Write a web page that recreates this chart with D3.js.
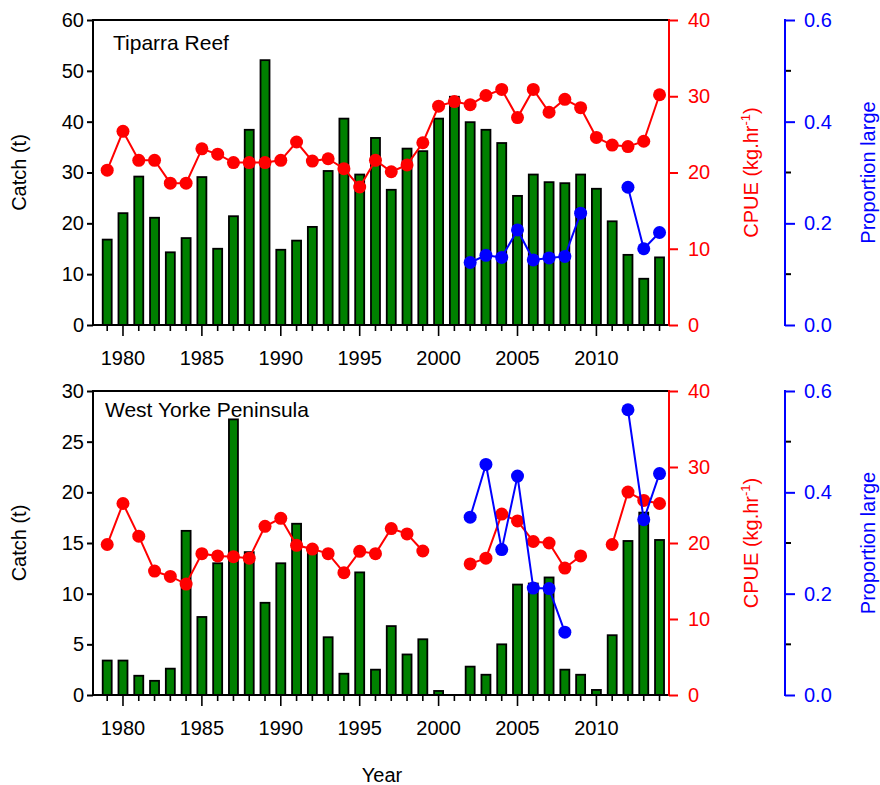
<!DOCTYPE html>
<html>
<head>
<meta charset="utf-8">
<script src="https://cdn.jsdelivr.net/npm/d3@7"></script>
<style>
  html, body { margin: 0; padding: 0; background: #fff; }
  svg { display: block; font-family: "Liberation Sans", Arial, sans-serif; }
</style>
</head>
<body>
<svg id="chart" width="880" height="785"></svg>
<script>
// ---------------- DATA ----------------
const years = [1979,1980,1981,1982,1983,1984,1985,1986,1987,1988,1989,1990,1991,1992,1993,1994,1995,1996,1997,1998,1999,2000,2001,2002,2003,2004,2005,2006,2007,2008,2009,2010,2011,2012,2013,2014];
const xTickLabels = [1980,1985,1990,1995,2000,2005,2010];

const tiparraCatch = [16.8,22.0,29.2,21.1,14.3,17.1,29.1,15.0,21.4,38.4,52.1,14.8,16.6,19.3,30.3,40.6,29.6,36.8,26.6,34.7,34.2,40.6,44.9,39.9,38.4,35.8,25.4,29.6,28.1,27.9,29.6,26.8,20.4,13.8,9.1,13.3];
const tiparraCPUE = [20.3,25.4,21.6,21.6,18.6,18.6,23.1,22.4,21.3,21.3,21.3,21.6,24.0,21.5,21.8,20.5,18.1,21.6,20.1,21.0,23.9,28.7,29.3,28.9,30.1,30.9,27.2,30.9,27.9,29.6,28.5,24.6,23.6,23.4,24.1,30.2];
const tiparraProp = [null,null,null,null,null,null,null,null,null,null,null,null,null,null,null,null,null,null,null,null,null,null,null,0.123,0.137,0.133,0.187,0.128,0.132,0.135,0.220,null,null,0.271,0.150,0.182];

const westCatch = [3.4,3.4,1.9,1.4,2.6,16.2,7.7,13.0,27.2,14.1,9.1,13.0,16.9,14.6,5.7,2.1,12.1,2.5,6.8,4.0,5.5,0.4,null,2.8,2.0,5.0,10.9,11.0,11.6,2.5,2.0,0.5,5.9,15.2,18.0,15.3];
const westCPUE = [19.8,25.2,20.9,16.3,15.6,14.6,18.6,18.3,18.2,18.0,22.2,23.25,19.7,19.2,18.6,16.1,18.9,18.6,21.9,21.2,18.95,null,null,17.25,18.0,23.8,22.9,20.2,20.0,16.7,18.3,null,19.8,26.7,25.6,25.2];
const westProp = [null,null,null,null,null,null,null,null,null,null,null,null,null,null,null,null,null,null,null,null,null,null,null,0.351,0.455,0.287,0.432,0.211,0.210,0.124,null,null,null,0.563,0.346,0.437];

const tiparraCatchTicks = [0,10,20,30,40,50,60];
const westCatchTicks = [0,5,10,15,20,25,30];
const cpueTicks = [0,10,20,30,40];
const propTicks = [0.0,0.2,0.4,0.6];
const propMinorTicks = [0.1,0.3,0.5];

const panelTitles = ["Tiparra Reef", "West Yorke Peninsula"];
const catchTitle = "Catch (t)";
const propTitle = "Proportion large";
const xTitle = "Year";

// ---------------- LAYOUT ----------------
const svg = d3.select("#chart");
const FS = 20;
const left = 93, right = 669, blueX = 785;
const x = d3.scaleLinear().domain([1978.1, 2014.6]).range([left, right]);

const panels = [
  { top: 20, bottom: 325, catchMax: 60, catchTicks: tiparraCatchTicks, catchV: tiparraCatch, cpue: tiparraCPUE, prop: tiparraProp, title: panelTitles[0], tx: 113, ty: 50 },
  { top: 391, bottom: 695, catchMax: 30, catchTicks: westCatchTicks, catchV: westCatch, cpue: westCPUE, prop: westProp, title: panelTitles[1], tx: 105, ty: 417 }
];

panels.forEach(p => {
  const g = svg.append("g");
  const yC = d3.scaleLinear().domain([0, p.catchMax]).range([p.bottom, p.top]);
  const yR = d3.scaleLinear().domain([0, 40]).range([p.bottom, p.top]);
  const yP = d3.scaleLinear().domain([0, 0.6]).range([p.bottom, p.top]);

  // bars
  const bw = 9;
  g.append("g").selectAll("rect")
    .data(years.map((yr, i) => ({ yr, v: p.catchV[i] })).filter(d => d.v != null))
    .join("rect")
    .attr("x", d => x(d.yr) - bw / 2)
    .attr("width", bw)
    .attr("y", d => yC(d.v))
    .attr("height", d => yC(0) - yC(d.v))
    .attr("fill", "#008000")
    .attr("stroke", "#000")
    .attr("stroke-width", 1.8);

  // frame
  g.append("line").attr("x1", left).attr("x2", right).attr("y1", p.top).attr("y2", p.top).attr("stroke", "#000").attr("stroke-width", 2);
  g.append("line").attr("x1", left).attr("x2", right).attr("y1", p.bottom).attr("y2", p.bottom).attr("stroke", "#000").attr("stroke-width", 2);
  g.append("line").attr("x1", left).attr("x2", left).attr("y1", p.top - 1).attr("y2", p.bottom + 1).attr("stroke", "#000").attr("stroke-width", 2);

  // left axis
  const la = g.append("g").attr("transform", `translate(${left},0)`)
    .call(d3.axisLeft(yC).tickValues(p.catchTicks).tickSize(6).tickPadding(3).tickFormat(d3.format("d")));
  la.select(".domain").remove();
  la.selectAll("line").attr("stroke", "#000").attr("stroke-width", 2);
  la.selectAll("text").attr("font-size", FS).attr("fill", "#000").attr("font-family", null);

  // x axis ticks
  const xg = g.append("g");
  xg.selectAll("line").data(years).join("line")
    .attr("x1", d => x(d)).attr("x2", d => x(d))
    .attr("y1", p.bottom).attr("y2", d => p.bottom + (d % 5 === 0 ? 11 : 6))
    .attr("stroke", "#000").attr("stroke-width", 1.6);
  xg.selectAll("text").data(xTickLabels).join("text")
    .attr("x", d => x(d)).attr("y", p.bottom + 40)
    .attr("text-anchor", "middle").attr("font-size", FS).text(d => d);

  // red axis
  const ra = g.append("g").attr("transform", `translate(${right},0)`)
    .call(d3.axisRight(yR).tickValues(cpueTicks).tickSize(9).tickPadding(10).tickSizeOuter(0));
  ra.select(".domain").attr("stroke", "#ff0000").attr("stroke-width", 2).attr("d", `M0,${p.top - 1}V${p.bottom + 1}`);
  ra.selectAll(".tick line").attr("stroke", "#ff0000").attr("stroke-width", 2);
  ra.selectAll("text").attr("font-size", FS).attr("fill", "#ff0000").attr("font-family", null);

  // blue axis
  const ba = g.append("g").attr("transform", `translate(${blueX},0)`)
    .call(d3.axisRight(yP).tickValues(propTicks).tickSize(10).tickPadding(9).tickSizeOuter(0).tickFormat(d3.format(".1f")));
  ba.select(".domain").attr("stroke", "#0000ff").attr("stroke-width", 2).attr("d", `M0,${p.top - 1}V${p.bottom + 1}`);
  ba.selectAll(".tick line").attr("stroke", "#0000ff").attr("stroke-width", 2);
  ba.selectAll("text").attr("font-size", FS).attr("fill", "#0000ff").attr("font-family", null);
  ba.append("g").selectAll("line").data(propMinorTicks).join("line")
    .attr("x1", 1).attr("x2", 6).attr("y1", d => yP(d)).attr("y2", d => yP(d))
    .attr("stroke", "#000").attr("stroke-width", 2);

  // CPUE line
  const redData = years.map((yr, i) => ({ yr, v: p.cpue[i] }));
  g.append("path").datum(redData)
    .attr("d", d3.line().defined(d => d.v != null).x(d => x(d.yr)).y(d => yR(d.v)))
    .attr("fill", "none").attr("stroke", "#ff0000").attr("stroke-width", 2);
  g.append("g").selectAll("circle").data(redData.filter(d => d.v != null)).join("circle")
    .attr("cx", d => x(d.yr)).attr("cy", d => yR(d.v)).attr("r", 6.5).attr("fill", "#ff0000");

  // proportion line
  const blueData = years.map((yr, i) => ({ yr, v: p.prop[i] }));
  g.append("path").datum(blueData)
    .attr("d", d3.line().defined(d => d.v != null).x(d => x(d.yr)).y(d => yP(d.v)))
    .attr("fill", "none").attr("stroke", "#0000ff").attr("stroke-width", 2);
  g.append("g").selectAll("circle").data(blueData.filter(d => d.v != null)).join("circle")
    .attr("cx", d => x(d.yr)).attr("cy", d => yP(d.v)).attr("r", 6.5).attr("fill", "#0000ff");

  // titles
  g.append("text").attr("x", p.tx).attr("y", p.ty).attr("font-size", 21).text(p.title);
  const mid = (p.top + p.bottom) / 2;
  g.append("text").attr("transform", `translate(26,${mid}) rotate(-90)`)
    .attr("text-anchor", "middle").attr("font-size", FS).text(catchTitle);
  const ct = g.append("text").attr("transform", `translate(758,${mid}) rotate(-90)`)
    .attr("text-anchor", "middle").attr("font-size", FS).attr("fill", "#ff0000");
  ct.append("tspan").text("CPUE (kg.hr");
  ct.append("tspan").attr("font-size", 13).attr("dy", -8).text("-1");
  ct.append("tspan").attr("dy", 8).text(")");
  g.append("text").attr("transform", `translate(875,${mid}) rotate(-90)`)
    .attr("text-anchor", "middle").attr("font-size", FS).attr("fill", "#0000ff").text(propTitle);
});

svg.append("text").attr("x", 382).attr("y", 782).attr("text-anchor", "middle").attr("font-size", FS).text(xTitle);
</script>
</body>
</html>
